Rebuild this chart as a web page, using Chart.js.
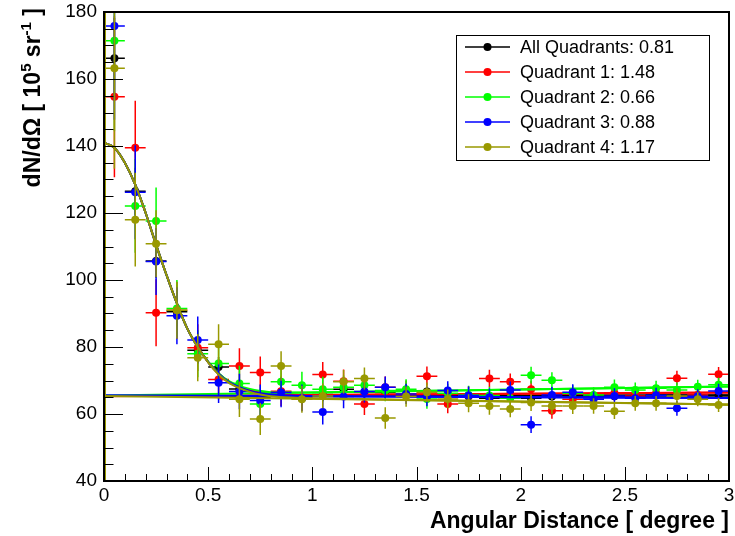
<!DOCTYPE html>
<html><head><meta charset="utf-8">
<script src="https://cdn.jsdelivr.net/npm/chart.js@4.4.0/dist/chart.umd.min.js"></script>
<style>html,body{margin:0;padding:0;background:#fff}</style>
</head><body>
<canvas id="c" width="735" height="536"></canvas>
<script>
// ---------- data ----------
const binCenters = [0.05,0.15,0.25,0.35,0.45,0.55,0.65,0.75,0.85,0.95,1.05,1.15,1.25,1.35,1.45,1.55,1.65,1.75,1.85,1.95,2.05,2.15,2.25,2.35,2.45,2.55,2.65,2.75,2.85,2.95];
const binHalfWidth = 0.05;
const seriesNames = ['All Quadrants: 0.81','Quadrant 1: 1.48','Quadrant 2: 0.66','Quadrant 3: 0.88','Quadrant 4: 1.17'];
const seriesColors = ['#000000','#ff0000','#00ff00','#0000ff','#999900'];

const allQuadrants = [166.2,126.5,105.7,90.5,79.0,74.0,67.5,65.0,66.5,64.6,65.8,67.4,66.5,66.4,65.6,66.7,65.8,65.2,64.7,65.8,64.7,65.2,65.3,65.0,65.3,65.2,65.7,65.6,65.5,65.6];
const quadrant1    = [154.7,139.5,90.2,91.0,79.8,70.3,74.3,72.4,66.8,65.0,71.8,69.8,63.0,68.0,67.0,71.3,63.0,65.5,70.6,69.6,67.4,61.0,64.4,64.8,66.3,65.4,66.2,70.7,65.7,71.9];
const quadrant2    = [171.4,122.1,117.6,91.5,78.0,75.1,69.1,63.0,69.6,68.6,67.4,68.0,68.6,67.0,67.4,64.5,66.2,65.7,65.5,64.7,71.6,70.1,66.2,65.7,68.0,67.2,67.7,67.2,68.1,68.7];
const quadrant3    = [175.8,126.2,105.5,89.3,82.1,69.3,66.7,64.0,66.4,64.8,60.6,65.2,66.7,68.0,66.0,65.2,67.0,65.5,65.0,67.2,56.8,65.7,66.5,64.4,65.4,64.7,65.6,61.7,65.3,66.9];
const quadrant4    = [163.2,118.0,110.8,91.0,76.8,80.8,64.4,58.5,74.3,64.4,65.4,69.6,70.6,58.8,65.2,66.5,64.5,63.2,62.4,61.5,63.4,62.4,62.4,62.4,60.8,63.2,63.2,65.4,64.4,62.7];

const errAll      = [12,7,5,4.2,3.5,3.0,2.7,2.4,2.2,2.0,1.9,1.8,1.7,1.6,1.5,1.5,1.4,1.4,1.3,1.3,1.3,1.2,1.2,1.2,1.2,1.1,1.1,1.1,1.1,1.1];
const errQuadrant = [24,14,10,8.5,7,6,5.3,4.8,4.4,4.0,3.7,3.5,3.3,3.2,3.0,2.9,2.8,2.7,2.6,2.5,2.5,2.4,2.4,2.3,2.3,2.2,2.2,2.2,2.1,2.1];
const errFirstBin = [12,24,27,28,30];

// fitted curves
const fitX     = [0,0.05,0.1,0.15,0.2,0.25,0.3,0.35,0.4,0.45,0.5,0.55,0.6,0.65,0.7,0.75,0.8,0.9,1.0,3.0];
const fitAll   = [141,139.5,135,128.5,120,110.5,101.5,93,85.5,80,75.5,72,69.5,68,67,66.3,65.9,65.6,65.5,65.5];
const fitQ1    = [141,139.5,135,128.5,120,110.5,101.5,93,85.5,80,75.5,72,69.6,68.1,67.1,66.4,66,65.8,65.7,66.4];
const fitQ2    = [141,139.5,135,128.5,120,110.5,101.5,93,85.5,80,75.6,72.2,69.8,68.4,67.5,66.9,66.5,66.4,66.4,68.2];
const fitQ3    = [141,139.5,135,128.5,120,110.5,101.5,93,85.5,80,75.5,72,69.5,68,66.9,66.2,65.8,65.5,65.3,64.8];
const fitQ4    = [141,139.5,135,128.5,120,110.5,101.5,93,85.5,80,75.4,71.8,69.3,67.7,66.6,65.8,65.3,64.9,64.7,62.8];
// background components
const bgX   = [0,3];
const bgAll = [65.4,65.5];
const bgQ1  = [65.3,66.4];
const bgQ2  = [65.5,68.2];
const bgQ3  = [65.6,64.8];
const bgQ4  = [65.4,62.8];

const xTickLabels = ['0','0.5','1','1.5','2','2.5','3'];
const yTickLabels = ['40','60','80','100','120','140','160','180'];
const xTitle = 'Angular Distance [ degree ]';
const yTitleParts = [['dN/dΩ [ 10', false], ['5', true], [' sr', false], ['-1', true], [' ]', false]];

// ---------- build ----------
const seriesValues = [allQuadrants,quadrant1,quadrant2,quadrant3,quadrant4];
const fitValues = [fitAll,fitQ1,fitQ2,fitQ3,fitQ4];
const bgValues = [bgAll,bgQ1,bgQ2,bgQ3,bgQ4];
const datasets = [];
seriesValues.forEach((vals, s) => {
  const errs = s === 0 ? errAll : errQuadrant;
  datasets.push({
    type: 'scatter', label: seriesNames[s], errorBars: true,
    data: binCenters.map((x, i) => ({x, y: vals[i], ex: binHalfWidth, ey: i === 0 ? errFirstBin[s] : errs[i]})),
    backgroundColor: seriesColors[s], borderColor: seriesColors[s],
    pointRadius: 4, pointBorderWidth: 0, pointHoverRadius: 4, order: 20 - 3*s
  });
  datasets.push({
    type: 'line', label: seriesNames[s] + ' fit',
    data: fitX.map((x, i) => ({x, y: fitValues[s][i]})),
    borderColor: seriesColors[s], borderWidth: 2, pointRadius: 0, fill: false, tension: 0.35, order: 19 - 3*s
  });
  datasets.push({
    type: 'line', label: seriesNames[s] + ' background',
    data: bgX.map((x, i) => ({x, y: bgValues[s][i]})),
    borderColor: seriesColors[s], borderWidth: 2, pointRadius: 0, fill: false, order: 18 - 3*s
  });
});

const errorBarPlugin = {
  id: 'errorBars',
  beforeDatasetDraw(chart, args) {
    const ds = chart.data.datasets[args.index];
    if (!ds.errorBars) return;
    const {ctx, chartArea: a, scales: {x, y}} = chart;
    ctx.save();
    ctx.beginPath(); ctx.rect(a.left, a.top, a.right - a.left, a.bottom - a.top); ctx.clip();
    ctx.strokeStyle = ds.borderColor; ctx.lineWidth = 1.5;
    ds.data.forEach(d => {
      const px = x.getPixelForValue(d.x), py = y.getPixelForValue(d.y);
      ctx.beginPath();
      ctx.moveTo(x.getPixelForValue(d.x - d.ex), py); ctx.lineTo(x.getPixelForValue(d.x + d.ex), py);
      ctx.moveTo(px, y.getPixelForValue(d.y - d.ey)); ctx.lineTo(px, y.getPixelForValue(d.y + d.ey));
      ctx.stroke();
    });
    ctx.restore();
  }
};

const framePlugin = {
  id: 'frame',
  afterDraw(chart) {
    const {ctx, chartArea: a, scales: {x, y}} = chart;
    ctx.save();
    // olive edge line inside left frame
    ctx.strokeStyle = seriesColors[4]; ctx.lineWidth = 1;
    ctx.beginPath(); ctx.moveTo(a.left + 1.5, a.top); ctx.lineTo(a.left + 1.5, a.bottom); ctx.stroke();
    // ticks
    ctx.strokeStyle = '#000'; ctx.lineWidth = 1;
    ctx.beginPath();
    for (let i = 0; i <= 28; i++) {
      const v = 40 + 5*i, py = Math.round(y.getPixelForValue(v)) + 0.5;
      const len = (i % 4 === 0) ? 19 : 9.5;
      ctx.moveTo(a.left, py); ctx.lineTo(a.left + len, py);
    }
    for (let i = 0; i <= 30; i++) {
      const px = Math.round(x.getPixelForValue(i/10)) + 0.5;
      const len = (i % 5 === 0) ? 14 : 7;
      ctx.moveTo(px, a.bottom); ctx.lineTo(px, a.bottom - len);
    }
    ctx.stroke();
    ctx.lineWidth = 2;
    ctx.strokeRect(a.left, a.top, a.right - a.left, a.bottom - a.top);
    // y axis title with superscripts
    const big = 'bold 23px "Liberation Sans", Arial, sans-serif';
    const small = 'bold 15px "Liberation Sans", Arial, sans-serif';
    let total = 0;
    yTitleParts.forEach(([t, sup]) => { ctx.font = sup ? small : big; total += ctx.measureText(t).width; });
    ctx.save();
    ctx.translate(40, 8 + total);
    ctx.rotate(-Math.PI / 2);
    ctx.fillStyle = '#000'; ctx.textAlign = 'left'; ctx.textBaseline = 'alphabetic';
    let off = 0;
    yTitleParts.forEach(([t, sup]) => {
      ctx.font = sup ? small : big;
      ctx.fillText(t, off, sup ? -9 : 0);
      off += ctx.measureText(t).width;
    });
    ctx.restore();
    // legend
    const lx = 456, ly = 35, lw = 253, lh = 125;
    ctx.fillStyle = '#fff'; ctx.fillRect(lx, ly, lw, lh);
    ctx.lineWidth = 1; ctx.strokeStyle = '#000';
    ctx.strokeRect(lx + 0.5, ly + 0.5, lw, lh);
    ctx.font = '18px "Liberation Sans", Arial, sans-serif';
    ctx.textBaseline = 'middle'; ctx.textAlign = 'left';
    seriesNames.forEach((name, s) => {
      const ry = 47 + 25*s;
      ctx.strokeStyle = seriesColors[s]; ctx.lineWidth = 1.5;
      ctx.beginPath(); ctx.moveTo(465, ry); ctx.lineTo(510, ry); ctx.stroke();
      ctx.fillStyle = seriesColors[s];
      ctx.beginPath(); ctx.arc(487.5, ry, 4, 0, Math.PI*2); ctx.fill();
      ctx.fillStyle = '#000';
      ctx.fillText(name, 520, ry + 1);
    });
    ctx.restore();
  }
};

Chart.defaults.font.family = '"Liberation Sans", Arial, Helvetica, sans-serif';
Chart.defaults.color = '#000';

new Chart(document.getElementById('c'), {
  type: 'scatter',
  data: {datasets},
  options: {
    responsive: false, animation: false, devicePixelRatio: 1,
    layout: {padding: {left: 0, right: 6, top: 12, bottom: 0}},
    plugins: {legend: {display: false}, tooltip: {enabled: false}},
    scales: {
      x: {
        type: 'linear', min: 0, max: 3,
        afterFit: s => { s.height = 55; s.paddingLeft = 0; s.paddingRight = 0; },
        grid: {display: false, drawTicks: false}, border: {display: false},
        ticks: {stepSize: 0.5, padding: 3, font: {size: 19}, maxRotation: 0, autoSkip: false,
                callback: v => xTickLabels[Math.round(v / 0.5)]},
        title: {display: true, text: xTitle, align: 'end',
                font: {size: 23, weight: 'bold'}, padding: {top: 0, bottom: 1}}
      },
      y: {
        type: 'linear', min: 40, max: 180,
        afterFit: s => { s.width = 104; s.paddingTop = 0; s.paddingBottom = 0; },
        grid: {display: false, drawTicks: false}, border: {display: false},
        ticks: {stepSize: 20, padding: 7, font: {size: 19},
                callback: v => yTickLabels[Math.round((v - 40) / 20)]},
        title: {display: false}
      }
    }
  },
  plugins: [errorBarPlugin, framePlugin]
});
</script>
</body></html>
